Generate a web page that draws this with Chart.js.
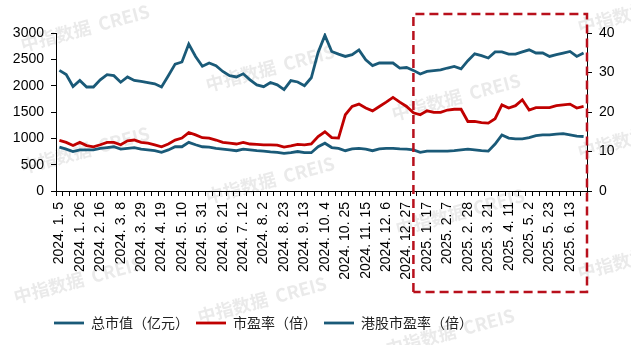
<!DOCTYPE html>
<html><head><meta charset="utf-8">
<script src="https://cdn.jsdelivr.net/npm/chart.js@4.4.1/dist/chart.umd.min.js"></script>
<style>html,body{margin:0;padding:0;background:#fff}#wrap{width:631px;height:345px}</style>
</head><body><div id="wrap"><canvas id="c" width="631" height="345"></canvas></div>
<script>
const categories = [
 '2024. 1. 5','2024. 1. 12','2024. 1. 19','2024. 1. 26','2024. 2. 2','2024. 2. 9','2024. 2. 16','2024. 2. 23',
 '2024. 3. 1','2024. 3. 8','2024. 3. 15','2024. 3. 22','2024. 3. 29','2024. 4. 5','2024. 4. 12','2024. 4. 19','2024. 4. 26',
 '2024. 5. 3','2024. 5. 10','2024. 5. 17','2024. 5. 24','2024. 5. 31','2024. 6. 7','2024. 6. 14','2024. 6. 21','2024. 6. 28',
 '2024. 7. 5','2024. 7. 12','2024. 7. 19','2024. 7. 26','2024. 8. 2','2024. 8. 9','2024. 8. 16','2024. 8. 23','2024. 8. 30',
 '2024. 9. 6','2024. 9. 13','2024. 9. 20','2024. 9. 27','2024. 10. 4','2024. 10. 11','2024. 10. 18','2024. 10. 25',
 '2024. 11. 1','2024. 11. 8','2024. 11. 15','2024. 11. 22','2024. 11. 29','2024. 12. 6','2024. 12. 13','2024. 12. 20','2024. 12. 27',
 '2025. 1. 3','2025. 1. 10','2025. 1. 17','2025. 1. 24','2025. 1. 31','2025. 2. 7','2025. 2. 14','2025. 2. 21','2025. 2. 28',
 '2025. 3. 7','2025. 3. 14','2025. 3. 21','2025. 3. 28','2025. 4. 4','2025. 4. 11','2025. 4. 18','2025. 4. 25',
 '2025. 5. 2','2025. 5. 9','2025. 5. 16','2025. 5. 23','2025. 5. 30','2025. 6. 6','2025. 6. 13','2025. 6. 20','2025. 6. 27'
];
const totalMarketValue = [
 2290,2210,1985,2100,1975,1975,2110,2210,2190,2065,2165,2100,2080,2060,2035,1975,2190,2410,2450,2790,
 2555,2370,2430,2380,2270,2190,2165,2225,2110,2015,1980,2060,2015,1925,2095,2070,2000,2150,2630,2955,
 2650,2600,2555,2590,2680,2490,2380,2430,2430,2430,2335,2345,2290,2220,2270,2285,2300,2335,2365,2320,
 2475,2605,2570,2525,2640,2640,2600,2600,2640,2680,2620,2620,2555,2590,2620,2650,2555,2620
];
const peRatio = [
 12.8,12.3,11.5,12.3,11.5,11.2,11.7,12.3,12.3,11.7,12.7,12.9,12.3,12.1,11.7,11.2,11.9,12.9,13.4,14.8,
 14.2,13.5,13.4,12.9,12.3,12.1,11.9,12.3,11.9,11.8,11.7,11.7,11.6,11.1,11.4,11.8,11.7,11.9,13.8,15.0,
 13.5,13.4,19.3,21.4,22.0,21.0,20.3,21.4,22.5,23.7,22.5,21.4,19.8,19.3,20.3,19.9,19.9,20.5,20.7,20.7,
 17.6,17.6,17.3,17.2,18.3,21.8,21.0,21.6,23.1,20.5,21.1,21.1,21.1,21.6,21.8,22.0,21.0,21.4
];
const hkPeRatio = [
 11.1,10.6,10.0,10.4,10.4,10.4,10.8,11.0,11.2,10.6,10.8,11.0,10.6,10.4,10.2,9.8,10.4,11.2,11.2,12.3,
 11.7,11.2,11.1,10.8,10.6,10.4,10.2,10.6,10.4,10.2,10.1,9.9,9.8,9.55,9.7,10.0,9.7,9.7,11.2,12.1,
 11.0,10.8,10.2,10.65,10.8,10.6,10.2,10.65,10.8,10.8,10.65,10.6,10.4,9.8,10.1,10.1,10.1,10.1,10.2,10.4,
 10.6,10.4,10.2,10.1,11.9,14.2,13.4,13.2,13.2,13.5,14.0,14.2,14.2,14.4,14.5,14.2,13.9,13.8
];
const seriesNames = ['总市值（亿元）','市盈率（倍）','港股市盈率（倍）'];
const leftAxisRange = [0, 3000, 500];
const rightAxisRange = [0, 40, 5];
const labelEvery = 3;
const highlightStart = '2025. 1. 3';
const watermarkText = '中指数据  CREIS';

const TEAL = '#1a5a78', RED = '#c00000', AXIS = '#000';
const tickFont = {family: '"Liberation Sans", Arial, sans-serif', size: 14};

const deco = {
  id: 'deco',
  afterLayout(chart) {
    const lg = chart.legend;
    if (lg) { lg.left -= 52; lg.right -= 52; }
  },
  beforeDraw(chart) {
    const ctx = chart.ctx;
    ctx.save();
    ctx.fillStyle = '#fff';
    ctx.fillRect(0, 0, chart.width, chart.height);
    const spots = [[85,28],[270,68],[456,97],[642,10],[85,150],[270,180],[460,212],[642,135],[78,280],[262,300],[450,332],[642,256]];
    ctx.font = 'bold 18px "Noto Sans CJK SC", sans-serif';
    ctx.fillStyle = 'rgba(160,160,160,0.22)';
    ctx.textAlign = 'center'; ctx.textBaseline = 'middle';
    spots.forEach(([cx, cy]) => {
      ctx.save(); ctx.translate(cx, cy); ctx.rotate(-15 * Math.PI / 180);
      ctx.fillText(watermarkText, 0, 0); ctx.restore();
    });
    ctx.restore();
  },
  afterDraw(chart) {
    const ctx = chart.ctx, a = chart.chartArea, xs = chart.scales.x;
    const left = xs.getPixelForValue(categories.indexOf(highlightStart));
    const right = a.right, top = a.top - 19, bottom = a.bottom + 101;
    ctx.save();
    ctx.strokeStyle = '#b8101c'; ctx.lineWidth = 2.5; ctx.setLineDash([9, 5]);
    ctx.beginPath();
    ctx.moveTo(left, bottom); ctx.lineTo(left, top); ctx.lineTo(right, top);
    ctx.lineTo(right, bottom); ctx.lineTo(left, bottom);
    ctx.stroke();
    ctx.restore();
  }
};

new Chart(document.getElementById('c'), {
  type: 'line',
  data: {
    labels: categories,
    datasets: [
      {label: seriesNames[0], data: totalMarketValue, yAxisID: 'y', borderColor: TEAL, backgroundColor: TEAL, borderWidth: 2.8, pointRadius: 0, tension: 0},
      {label: seriesNames[1], data: peRatio, yAxisID: 'y1', borderColor: RED, backgroundColor: RED, borderWidth: 2.8, pointRadius: 0, tension: 0},
      {label: seriesNames[2], data: hkPeRatio, yAxisID: 'y1', borderColor: TEAL, backgroundColor: TEAL, borderWidth: 2.8, pointRadius: 0, tension: 0}
    ]
  },
  options: {
    responsive: false, animation: false, devicePixelRatio: 1,
    layout: {padding: {top: 33, bottom: 5, left: 0, right: 0}},
    plugins: {
      legend: {
        position: 'bottom',
        labels: {usePointStyle: true, pointStyle: 'line', pointStyleWidth: 30, boxHeight: 14, padding: 7,
          color: '#222', font: {family: '"Noto Sans CJK SC", sans-serif', size: 14}}
      },
      tooltip: {enabled: false}
    },
    scales: {
      x: {
        offset: true,
        grid: {offset: true, drawOnChartArea: false, drawTicks: true, tickLength: 5, color: AXIS},
        border: {color: AXIS, width: 1},
        ticks: {autoSkip: false, maxRotation: 90, minRotation: 90, padding: 6, color: '#000', font: tickFont,
          callback: (v, i) => (i % labelEvery === 0 ? categories[i] : '')},
        afterFit: s => { s.height = 118; }
      },
      y: {
        position: 'left', min: leftAxisRange[0], max: leftAxisRange[1],
        grid: {drawOnChartArea: false, drawTicks: true, tickLength: 5, color: AXIS},
        border: {color: AXIS, width: 1},
        ticks: {stepSize: leftAxisRange[2], padding: 7, color: '#000', font: tickFont, callback: v => String(v)},
        afterFit: s => { s.width = 56; }
      },
      y1: {
        position: 'right', min: rightAxisRange[0], max: rightAxisRange[1],
        grid: {drawOnChartArea: false, drawTicks: true, tickLength: 5, color: AXIS},
        border: {color: AXIS, width: 1},
        ticks: {stepSize: rightAxisRange[2], padding: 7, color: '#000', font: tickFont, callback: v => String(v)},
        afterFit: s => { s.width = 44; }
      }
    }
  },
  plugins: [deco]
});
</script></body></html>
